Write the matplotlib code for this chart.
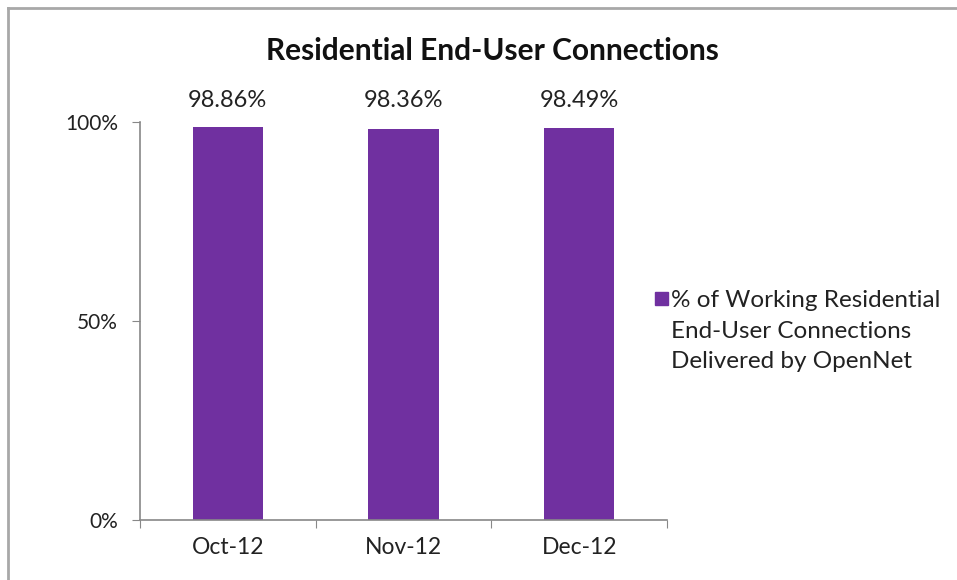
import numpy as np
import matplotlib.pyplot as plt
from matplotlib.patches import Rectangle

plt.rcParams['font.family'] = ['Lato', 'DejaVu Sans']

months = ['Oct-12', 'Nov-12', 'Dec-12']
pct = [98.86, 98.36, 98.49]
bar_labels = ['98.86%', '98.36%', '98.49%']
yticks = [0, 50, 100]
ytick_labels = ['0%', '50%', '100%']
series_name = '% of Working Residential\nEnd-User Connections\nDelivered by OpenNet'

purple = '#7030A0'
W, H = 957, 580

fig = plt.figure(figsize=(W / 100, H / 100), dpi=100)
ax = fig.add_axes([140 / W, 1 - 520 / H, (667 - 140) / W, (520 - 122) / H])

x = np.arange(len(months))
ax.bar(x, pct, width=0.4, color=purple)
for xi, v, s in zip(x, pct, bar_labels):
    ax.text(xi, 105.5, s, ha='center', va='center', fontsize=17, color='#222222')

ax.set_xlim(-0.5, len(months) - 0.5)
ax.set_ylim(0, 100)
ax.set_yticks(yticks)
ax.set_yticklabels(ytick_labels, fontsize=15, color='#222222')
ax.set_xticks(np.arange(len(months) + 1) - 0.5)
ax.set_xticklabels([])
ax.set_xticks(x, minor=True)
ax.set_xticklabels(months, minor=True, fontsize=16.5, color='#222222')
ax.tick_params(axis='x', which='minor', length=0, pad=12)
ax.tick_params(axis='x', which='major', length=6, color='#888888')
ax.tick_params(axis='y', length=6, color='#888888', pad=10)
for s in ['top', 'right']:
    ax.spines[s].set_visible(False)
for s in ['left', 'bottom']:
    ax.spines[s].set_color('#888888')
    ax.spines[s].set_linewidth(1.2)

fig.text(492 / W, 1 - 51 / H, 'Residential End-User Connections', ha='center',
         va='center', fontsize=21.5, fontweight='bold', color='#111111')

# legend drawn by hand so the swatch sits on the first line
fig.patches.append(Rectangle((655 / W, 1 - 305 / H), 13 / W, 13 / H,
                             transform=fig.transFigure, color=purple))
fig.text(671 / W, 1 - 331 / H, series_name, ha='left', va='center', fontsize=17.5,
         color='#222222', linespacing=1.55, transform=fig.transFigure)

# outer frame of the chart
fig.add_artist(plt.Line2D([8 / W, 8 / W], [0, 1 - 8 / H], transform=fig.transFigure,
                          color='#a8a8a8', lw=2))
fig.add_artist(plt.Line2D([8 / W, 1], [1 - 8 / H, 1 - 8 / H], transform=fig.transFigure,
                          color='#a8a8a8', lw=2))

fig.savefig('out.png', dpi=100)
